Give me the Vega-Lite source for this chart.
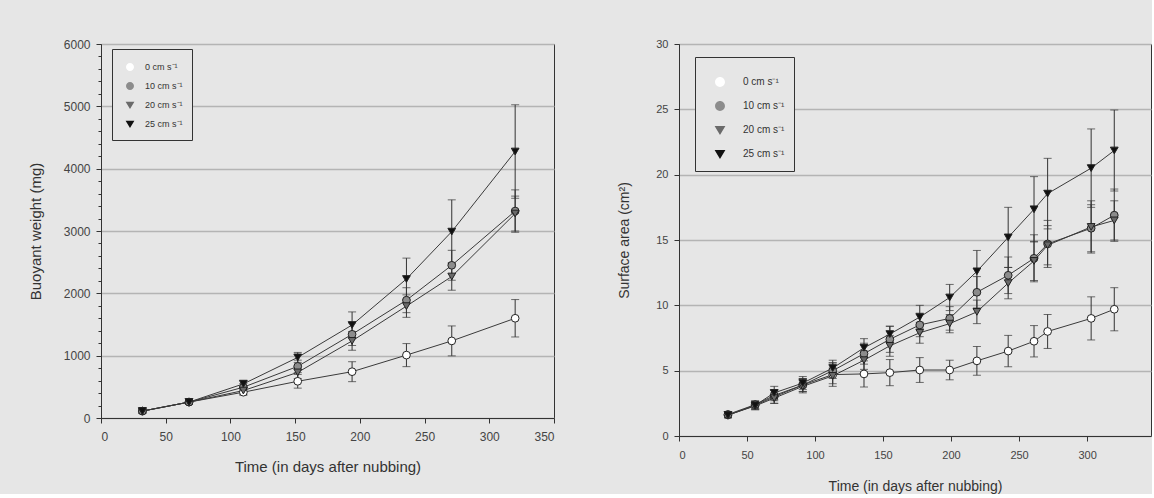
{
  "$schema": "https://vega.github.io/schema/vega-lite/v6.json",
  "background": "#e6e6e6",
  "padding": {"left": 27, "top": 37, "right": 0, "bottom": 0},
  "spacing": 62,
  "resolve": {"scale": {"shape": "independent", "fill": "independent"}},
  "config": {
    "font": "Liberation Sans",
    "view": {"stroke": "#333", "strokeWidth": 1},
    "axis": {
      "labelFont": "Liberation Sans", "titleFont": "Liberation Sans",
      "labelColor": "#444", "titleColor": "#333", "labelFontSize": 12, "titleFontSize": 15,
      "titleFontWeight": "normal", "domainColor": "#333", "tickColor": "#333",
      "gridColor": "#b4b4b4", "gridWidth": 1.5, "tickSize": 5, "labelPadding": 6
    },
    "legend": {
      "strokeColor": "#333", "fillColor": "#e6e6e6", "labelFont": "Liberation Sans",
      "labelColor": "#333", "symbolStrokeColor": "#222", "symbolStrokeWidth": 1, "symbolOpacity": 1
    }
  },
  "datasets": {
    "bw": [
      {"t": 32, "v": 111, "e": 30, "s": "0 cm s⁻¹"},
      {"t": 68, "v": 255, "e": 30, "s": "0 cm s⁻¹"},
      {"t": 110, "v": 414, "e": 50, "s": "0 cm s⁻¹"},
      {"t": 152, "v": 589, "e": 110, "s": "0 cm s⁻¹"},
      {"t": 194, "v": 743, "e": 160, "s": "0 cm s⁻¹"},
      {"t": 236, "v": 1009, "e": 185, "s": "0 cm s⁻¹"},
      {"t": 271, "v": 1237, "e": 240, "s": "0 cm s⁻¹"},
      {"t": 320, "v": 1600, "e": 300, "s": "0 cm s⁻¹"},
      {"t": 32, "v": 111, "e": 30, "s": "10 cm s⁻¹"},
      {"t": 68, "v": 255, "e": 30, "s": "10 cm s⁻¹"},
      {"t": 110, "v": 494, "e": 60, "s": "10 cm s⁻¹"},
      {"t": 152, "v": 828, "e": 100, "s": "10 cm s⁻¹"},
      {"t": 194, "v": 1343, "e": 180, "s": "10 cm s⁻¹"},
      {"t": 236, "v": 1890, "e": 200, "s": "10 cm s⁻¹"},
      {"t": 271, "v": 2450, "e": 240, "s": "10 cm s⁻¹"},
      {"t": 320, "v": 3320, "e": 340, "s": "10 cm s⁻¹"},
      {"t": 32, "v": 111, "e": 30, "s": "20 cm s⁻¹"},
      {"t": 68, "v": 255, "e": 30, "s": "20 cm s⁻¹"},
      {"t": 110, "v": 440, "e": 60, "s": "20 cm s⁻¹"},
      {"t": 152, "v": 732, "e": 100, "s": "20 cm s⁻¹"},
      {"t": 194, "v": 1237, "e": 150, "s": "20 cm s⁻¹"},
      {"t": 236, "v": 1795, "e": 180, "s": "20 cm s⁻¹"},
      {"t": 271, "v": 2270, "e": 220, "s": "20 cm s⁻¹"},
      {"t": 320, "v": 3280, "e": 280, "s": "20 cm s⁻¹"},
      {"t": 32, "v": 111, "e": 30, "s": "25 cm s⁻¹"},
      {"t": 68, "v": 255, "e": 30, "s": "25 cm s⁻¹"},
      {"t": 110, "v": 547, "e": 60, "s": "25 cm s⁻¹"},
      {"t": 152, "v": 972, "e": 80, "s": "25 cm s⁻¹"},
      {"t": 194, "v": 1492, "e": 210, "s": "25 cm s⁻¹"},
      {"t": 236, "v": 2230, "e": 335, "s": "25 cm s⁻¹"},
      {"t": 271, "v": 2990, "e": 510, "s": "25 cm s⁻¹"},
      {"t": 320, "v": 4275, "e": 750, "s": "25 cm s⁻¹"}
    ],
    "sa": [
      {"t": 36, "v": 1.6, "e": 0.2, "s": "0 cm s⁻¹"},
      {"t": 56, "v": 2.35, "e": 0.3, "s": "0 cm s⁻¹"},
      {"t": 70, "v": 3.0, "e": 0.5, "s": "0 cm s⁻¹"},
      {"t": 91, "v": 3.9, "e": 0.5, "s": "0 cm s⁻¹"},
      {"t": 113, "v": 4.7, "e": 0.9, "s": "0 cm s⁻¹"},
      {"t": 136, "v": 4.75, "e": 1.0, "s": "0 cm s⁻¹"},
      {"t": 155, "v": 4.85, "e": 1.0, "s": "0 cm s⁻¹"},
      {"t": 177, "v": 5.05, "e": 0.95, "s": "0 cm s⁻¹"},
      {"t": 199, "v": 5.05, "e": 0.75, "s": "0 cm s⁻¹"},
      {"t": 219, "v": 5.75, "e": 1.1, "s": "0 cm s⁻¹"},
      {"t": 242, "v": 6.5, "e": 1.2, "s": "0 cm s⁻¹"},
      {"t": 261, "v": 7.25, "e": 1.2, "s": "0 cm s⁻¹"},
      {"t": 271, "v": 8.0, "e": 1.3, "s": "0 cm s⁻¹"},
      {"t": 303, "v": 9.0, "e": 1.65, "s": "0 cm s⁻¹"},
      {"t": 320, "v": 9.7, "e": 1.65, "s": "0 cm s⁻¹"},
      {"t": 36, "v": 1.65, "e": 0.2, "s": "10 cm s⁻¹"},
      {"t": 56, "v": 2.4, "e": 0.3, "s": "10 cm s⁻¹"},
      {"t": 70, "v": 3.1, "e": 0.4, "s": "10 cm s⁻¹"},
      {"t": 91, "v": 3.9, "e": 0.5, "s": "10 cm s⁻¹"},
      {"t": 113, "v": 5.0, "e": 0.6, "s": "10 cm s⁻¹"},
      {"t": 136, "v": 6.3, "e": 0.8, "s": "10 cm s⁻¹"},
      {"t": 155, "v": 7.4, "e": 1.0, "s": "10 cm s⁻¹"},
      {"t": 177, "v": 8.5, "e": 0.9, "s": "10 cm s⁻¹"},
      {"t": 199, "v": 9.0, "e": 0.9, "s": "10 cm s⁻¹"},
      {"t": 219, "v": 11.0, "e": 1.2, "s": "10 cm s⁻¹"},
      {"t": 242, "v": 12.3, "e": 1.4, "s": "10 cm s⁻¹"},
      {"t": 261, "v": 13.6, "e": 1.8, "s": "10 cm s⁻¹"},
      {"t": 271, "v": 14.7, "e": 1.8, "s": "10 cm s⁻¹"},
      {"t": 303, "v": 15.9, "e": 1.8, "s": "10 cm s⁻¹"},
      {"t": 320, "v": 16.9, "e": 2.0, "s": "10 cm s⁻¹"},
      {"t": 36, "v": 1.6, "e": 0.2, "s": "20 cm s⁻¹"},
      {"t": 56, "v": 2.3, "e": 0.3, "s": "20 cm s⁻¹"},
      {"t": 70, "v": 2.9, "e": 0.4, "s": "20 cm s⁻¹"},
      {"t": 91, "v": 3.8, "e": 0.5, "s": "20 cm s⁻¹"},
      {"t": 113, "v": 4.6, "e": 0.6, "s": "20 cm s⁻¹"},
      {"t": 136, "v": 5.8, "e": 0.7, "s": "20 cm s⁻¹"},
      {"t": 155, "v": 6.9, "e": 0.8, "s": "20 cm s⁻¹"},
      {"t": 177, "v": 7.9, "e": 0.8, "s": "20 cm s⁻¹"},
      {"t": 199, "v": 8.6, "e": 0.7, "s": "20 cm s⁻¹"},
      {"t": 219, "v": 9.5, "e": 0.9, "s": "20 cm s⁻¹"},
      {"t": 242, "v": 11.7, "e": 1.2, "s": "20 cm s⁻¹"},
      {"t": 261, "v": 13.4, "e": 1.5, "s": "20 cm s⁻¹"},
      {"t": 271, "v": 14.6, "e": 1.5, "s": "20 cm s⁻¹"},
      {"t": 303, "v": 16.0, "e": 2.0, "s": "20 cm s⁻¹"},
      {"t": 320, "v": 16.5, "e": 1.5, "s": "20 cm s⁻¹"},
      {"t": 36, "v": 1.6, "e": 0.2, "s": "25 cm s⁻¹"},
      {"t": 56, "v": 2.35, "e": 0.3, "s": "25 cm s⁻¹"},
      {"t": 70, "v": 3.3, "e": 0.5, "s": "25 cm s⁻¹"},
      {"t": 91, "v": 4.05, "e": 0.5, "s": "25 cm s⁻¹"},
      {"t": 113, "v": 5.2, "e": 0.6, "s": "25 cm s⁻¹"},
      {"t": 136, "v": 6.75, "e": 0.7, "s": "25 cm s⁻¹"},
      {"t": 155, "v": 7.8, "e": 0.6, "s": "25 cm s⁻¹"},
      {"t": 177, "v": 9.1, "e": 0.9, "s": "25 cm s⁻¹"},
      {"t": 199, "v": 10.6, "e": 1.0, "s": "25 cm s⁻¹"},
      {"t": 219, "v": 12.6, "e": 1.6, "s": "25 cm s⁻¹"},
      {"t": 242, "v": 15.2, "e": 2.3, "s": "25 cm s⁻¹"},
      {"t": 261, "v": 17.35, "e": 2.5, "s": "25 cm s⁻¹"},
      {"t": 271, "v": 18.55, "e": 2.7, "s": "25 cm s⁻¹"},
      {"t": 303, "v": 20.5, "e": 3.0, "s": "25 cm s⁻¹"},
      {"t": 320, "v": 21.85, "e": 3.1, "s": "25 cm s⁻¹"}
    ]
  },
  "hconcat": [
    {
      "width": 453,
      "height": 374,
      "data": {"name": "bw"},
      "resolve": {"axis": {"y": "independent"}, "scale": {"shape": "independent", "fill": "independent"}},
      "layer": [
        {
          "mark": {"type": "line", "color": "#3a3a3a", "strokeWidth": 1},
          "encoding": {
            "x": {"field": "t", "type": "quantitative", "scale": {"domain": [0, 350], "nice": false},
                  "axis": {"values": [0, 50, 100, 150, 200, 250, 300, 350], "grid": false, "title": "Time (in days after nubbing)", "titlePadding": 17, "labelPadding": 8}},
            "y": {"field": "v", "type": "quantitative", "scale": {"domain": [0, 6000], "nice": false},
                  "axis": {"values": [0, 1000, 2000, 3000, 4000, 5000, 6000], "format": "d", "grid": true, "title": "Buoyant  weight (mg)", "titlePadding": 20, "orient": "left"}},
            "detail": {"field": "s", "type": "nominal"}
          }
        },
        {
          "mark": {"type": "errorbar", "ticks": {"size": 8, "color": "#333"}, "color": "#333", "thickness": 1},
          "encoding": {
            "x": {"field": "t", "type": "quantitative"},
            "y": {"field": "v", "type": "quantitative",
                  "axis": {"values": [200, 400, 600, 800, 1200, 1400, 1600, 1800, 2200, 2400, 2600, 2800, 3200, 3400, 3600, 3800, 4200, 4400, 4600, 4800, 5200, 5400, 5600, 5800], "grid": false, "labels": false, "domain": false, "title": null, "tickSize": 3, "orient": "left"}},
            "yError": {"field": "e"},
            "detail": {"field": "s", "type": "nominal"}
          }
        },
        {
          "mark": {"type": "point", "filled": true, "stroke": "#222", "strokeWidth": 1, "size": 60, "opacity": 1},
          "encoding": {
            "x": {"field": "t", "type": "quantitative"},
            "y": {"field": "v", "type": "quantitative", "axis": null},
            "shape": {"field": "s", "type": "nominal", "scale": {"range": ["circle", "circle", "triangle-down", "triangle-down"]}, "legend": null},
            "fill": {"field": "s", "type": "nominal", "scale": {"range": ["#ffffff", "#8c8c8c", "#6a6a6a", "#111111"]}, "legend": null}
          }
        },
        {
          "transform": [{"filter": "datum.t < 0"}],
          "mark": {"type": "point", "filled": true, "stroke": "#222", "strokeWidth": 1, "size": 60},
          "encoding": {
            "x": {"field": "t", "type": "quantitative"},
            "y": {"field": "v", "type": "quantitative", "axis": null},
            "shape": {"field": "s", "type": "nominal",
                      "scale": {"domain": ["0 cm s⁻¹", "10 cm s⁻¹", "20 cm s⁻¹", "25 cm s⁻¹"],
                                "range": ["M-1,0L-0.5,0M0.5,0L1,0M0.5,0A0.5,0.5,0,1,1,-0.5,0A0.5,0.5,0,1,1,0.5,0Z", "M-1,0L-0.5,0M0.5,0L1,0M0.5,0A0.5,0.5,0,1,1,-0.5,0A0.5,0.5,0,1,1,0.5,0Z", "M-1,0L1,0M-0.55,-0.4L0.55,-0.4L0,0.5Z", "M-1,0L1,0M-0.55,-0.4L0.55,-0.4L0,0.5Z"]},
                      "legend": {"title": null, "orient": "none", "legendX": 11, "legendY": 5, "padding": 9, "rowPadding": 3, "labelFontSize": 9, "labelOffset": 6, "symbolSize": 256, "symbolOpacity": 1, "symbolStrokeWidth": 1.2}},
            "fill": {"field": "s", "type": "nominal",
                     "scale": {"domain": ["0 cm s⁻¹", "10 cm s⁻¹", "20 cm s⁻¹", "25 cm s⁻¹"], "range": ["#ffffff", "#8c8c8c", "#6a6a6a", "#111111"]},
                     "legend": {"title": null, "orient": "none", "legendX": 11, "legendY": 5, "padding": 9, "rowPadding": 3, "labelFontSize": 9, "labelOffset": 6, "symbolSize": 256, "symbolOpacity": 1, "symbolStrokeWidth": 1.2}}
          }
        }
      ]
    },
    {
      "width": 472,
      "height": 392,
      "data": {"name": "sa"},
      "resolve": {"scale": {"shape": "independent", "fill": "independent"}},
      "layer": [
        {
          "mark": {"type": "line", "color": "#3a3a3a", "strokeWidth": 1},
          "encoding": {
            "x": {"field": "t", "type": "quantitative", "scale": {"domain": [0, 347], "nice": false},
                  "axis": {"values": [0, 50, 100, 150, 200, 250, 300], "grid": false, "title": "Time (in days after nubbing)", "titlePadding": 19, "titleFontSize": 14, "labelFontSize": 11, "labelPadding": 8}},
            "y": {"field": "v", "type": "quantitative", "title": "Surface area (cm²)", "scale": {"domain": [0, 30], "nice": false},
                  "axis": {"values": [0, 5, 10, 15, 20, 25, 30], "grid": true, "titlePadding": 24, "titleFontSize": 14, "labelFontSize": 11}},
            "detail": {"field": "s", "type": "nominal"}
          }
        },
        {
          "mark": {"type": "errorbar", "ticks": {"size": 8, "color": "#333"}, "color": "#333", "thickness": 1},
          "encoding": {
            "x": {"field": "t", "type": "quantitative"},
            "y": {"field": "v", "type": "quantitative", "title": "Surface area (cm²)"},
            "yError": {"field": "e"},
            "detail": {"field": "s", "type": "nominal"}
          }
        },
        {
          "mark": {"type": "point", "filled": true, "stroke": "#222", "strokeWidth": 1, "size": 60, "opacity": 1},
          "encoding": {
            "x": {"field": "t", "type": "quantitative"},
            "y": {"field": "v", "type": "quantitative", "title": "Surface area (cm²)"},
            "shape": {"field": "s", "type": "nominal", "scale": {"range": ["circle", "circle", "triangle-down", "triangle-down"]}, "legend": null},
            "fill": {"field": "s", "type": "nominal", "scale": {"range": ["#ffffff", "#8c8c8c", "#6a6a6a", "#111111"]}, "legend": null}
          }
        },
        {
          "transform": [{"filter": "datum.t < 0"}],
          "mark": {"type": "point", "filled": true, "stroke": "#222", "strokeWidth": 1, "size": 60},
          "encoding": {
            "x": {"field": "t", "type": "quantitative"},
            "y": {"field": "v", "type": "quantitative", "title": "Surface area (cm²)"},
            "shape": {"field": "s", "type": "nominal",
                      "scale": {"domain": ["0 cm s⁻¹", "10 cm s⁻¹", "20 cm s⁻¹", "25 cm s⁻¹"],
                                "range": ["M-1,0L-0.33,0M0.33,0L1,0M0.33,0A0.33,0.33,0,1,1,-0.33,0A0.33,0.33,0,1,1,0.33,0Z", "M-1,0L-0.33,0M0.33,0L1,0M0.33,0A0.33,0.33,0,1,1,-0.33,0A0.33,0.33,0,1,1,0.33,0Z", "M-1,0L1,0M-0.36,-0.26L0.36,-0.26L0,0.34Z", "M-1,0L1,0M-0.36,-0.26L0.36,-0.26L0,0.34Z"]},
                      "legend": {"title": null, "orient": "none", "legendX": 16, "legendY": 13, "padding": 9, "rowPadding": 0, "labelFontSize": 10, "labelOffset": 7, "symbolSize": 900, "symbolOpacity": 1, "symbolStrokeWidth": 1.2}},
            "fill": {"field": "s", "type": "nominal",
                     "scale": {"domain": ["0 cm s⁻¹", "10 cm s⁻¹", "20 cm s⁻¹", "25 cm s⁻¹"], "range": ["#ffffff", "#8c8c8c", "#6a6a6a", "#111111"]},
                     "legend": {"title": null, "orient": "none", "legendX": 16, "legendY": 13, "padding": 9, "rowPadding": 0, "labelFontSize": 10, "labelOffset": 7, "symbolSize": 900, "symbolOpacity": 1, "symbolStrokeWidth": 1.2}}
          }
        }
      ]
    }
  ]
}
